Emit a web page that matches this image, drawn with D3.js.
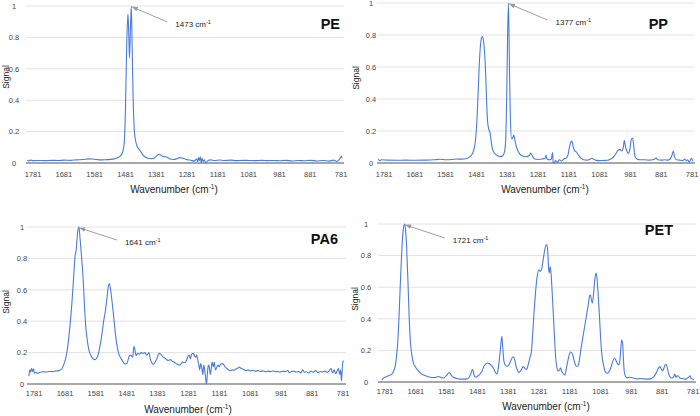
<!DOCTYPE html>
<meta charset="utf-8">
<style>
body { margin: 0; background: #fff; }
svg { display: block; font-family: "Liberation Sans", Arial, sans-serif; }
.grid line { stroke: #e2e2e2; stroke-width: 1; }
.base { stroke: #8a8a8a; stroke-width: 1.5; }
.tick-label { font-size: 7.5px; fill: #444; }
.axis-title { font-size: 10px; fill: #222; }
.signal { font-size: 8.5px; fill: #222; }
.spectrum { fill: none; stroke: #4a7bdc; stroke-width: 1.1; }
.note { font-size: 8px; fill: #222; }
.pointer { stroke: #a0a0a0; stroke-width: 1; }
.panel-name { font-size: 14.5px; font-weight: bold; fill: #111; }
</style>
<svg width="700" height="416"></svg>
<script src="https://cdnjs.cloudflare.com/ajax/libs/d3/7.8.5/d3.min.js"></script>
<script>

// tick labels
var xTicks = [1781, 1681, 1581, 1481, 1381, 1281, 1181, 1081, 981, 881, 781];
var yTicks = [0, 0.2, 0.4, 0.6, 0.8, 1];
var panelNames = ["PE", "PP", "PA6", "PET"];
var peakLabels = ["1473", "1377", "1641", "1721"];

// PE spectrum (wavenumber, signal)
var peWn = [1800, 1795, 1790, 1780, 1760, 1740, 1720, 1700, 1680, 1660, 1640, 1620, 1600, 1590, 1575, 1560, 1545, 1530, 1515, 1505, 1497, 1490, 1485, 1481, 1477, 1473, 1470, 1468, 1465, 1462, 1459, 1456, 1452, 1448, 1444, 1438, 1432, 1426, 1418, 1408, 1398, 1388, 1380, 1372, 1366, 1360, 1352, 1345, 1336, 1325, 1314, 1305, 1297, 1288, 1278, 1268, 1258, 1250, 1247, 1244, 1241, 1238, 1235, 1232, 1229, 1225, 1220, 1214, 1205, 1190, 1175, 1160, 1140, 1120, 1100, 1080, 1060, 1040, 1020, 1000, 980, 960, 940, 920, 900, 880, 860, 840, 820, 805, 795, 788, 783, 780, 778];
var peSig = [0.02, 0.012, 0.018, 0.015, 0.016, 0.015, 0.017, 0.016, 0.018, 0.017, 0.02, 0.022, 0.026, 0.025, 0.022, 0.02, 0.021, 0.023, 0.028, 0.035, 0.045, 0.07, 0.13, 0.35, 0.75, 0.95, 0.8, 0.67, 0.85, 1.0, 0.7, 0.4, 0.2, 0.14, 0.11, 0.09, 0.075, 0.055, 0.04, 0.03, 0.027, 0.03, 0.045, 0.056, 0.05, 0.042, 0.04, 0.035, 0.025, 0.022, 0.027, 0.034, 0.032, 0.025, 0.02, 0.018, 0.012, 0.025, 0.008, 0.035, 0.015, 0.04, 0.0, 0.03, 0.01, 0.02, 0.0, 0.015, 0.02, 0.016, 0.019, 0.016, 0.018, 0.015, 0.017, 0.016, 0.015, 0.017, 0.015, 0.016, 0.014, 0.017, 0.013, 0.016, 0.014, 0.017, 0.013, 0.016, 0.012, 0.018, 0.01, 0.02, 0.035, 0.045, 0.03];

// PP spectrum
var ppWn = [1800, 1795, 1790, 1770, 1740, 1710, 1680, 1650, 1620, 1600, 1580, 1560, 1545, 1530, 1515, 1505, 1497, 1490, 1485, 1480, 1476, 1471, 1466, 1462, 1458, 1455, 1451, 1448, 1445, 1441, 1437, 1433, 1428, 1420, 1412, 1403, 1396, 1390, 1386, 1383, 1380, 1377, 1374, 1371, 1367, 1363, 1360, 1356, 1351, 1345, 1338, 1328, 1318, 1310, 1305, 1300, 1292, 1280, 1268, 1258, 1255, 1252, 1244, 1238, 1234, 1232, 1228, 1225, 1218, 1212, 1205, 1198, 1190, 1184, 1180, 1175, 1171, 1167, 1162, 1157, 1150, 1142, 1134, 1120, 1112, 1106, 1098, 1085, 1070, 1055, 1045, 1035, 1028, 1021, 1015, 1010, 1005, 1001, 997, 992, 988, 983, 978, 974, 970, 966, 960, 950, 935, 920, 910, 902, 898, 893, 880, 870, 860, 852, 846, 842, 838, 832, 822, 812, 805, 800, 795, 790, 786, 782, 779];
var ppSig = [0.025, 0.015, 0.02, 0.018, 0.017, 0.018, 0.017, 0.018, 0.02, 0.023, 0.02, 0.022, 0.025, 0.024, 0.027, 0.035, 0.05, 0.08, 0.13, 0.25, 0.42, 0.65, 0.77, 0.79, 0.76, 0.7, 0.55, 0.38, 0.26, 0.21, 0.19, 0.13, 0.08, 0.055, 0.045, 0.04, 0.045, 0.07, 0.15, 0.4, 0.8, 1.0, 0.6, 0.28, 0.15, 0.16, 0.175, 0.14, 0.1, 0.07, 0.05, 0.042, 0.04, 0.045, 0.062, 0.045, 0.025, 0.022, 0.025, 0.03, 0.048, 0.025, 0.02, 0.025, 0.065, 0.005, 0.0, 0.015, 0.005, 0.02, 0.012, 0.025, 0.03, 0.05, 0.09, 0.13, 0.137, 0.1, 0.075, 0.07, 0.05, 0.03, 0.02, 0.018, 0.025, 0.03, 0.02, 0.015, 0.016, 0.017, 0.025, 0.04, 0.06, 0.08, 0.085, 0.075, 0.09, 0.14, 0.1, 0.07, 0.06, 0.085, 0.15, 0.155, 0.1, 0.04, 0.025, 0.02, 0.02, 0.018, 0.02, 0.025, 0.032, 0.02, 0.018, 0.02, 0.018, 0.025, 0.05, 0.075, 0.04, 0.02, 0.018, 0.015, 0.025, 0.015, 0.02, 0.005, 0.02, 0.03, 0.01];

// PA6 spectrum
var pa6Wn = [1798, 1795, 1792, 1789, 1786, 1783, 1780, 1776, 1770, 1762, 1752, 1742, 1732, 1722, 1712, 1702, 1695, 1690, 1684, 1678, 1672, 1666, 1660, 1655, 1648, 1645, 1640, 1636, 1632, 1627, 1622, 1618, 1614, 1609, 1604, 1598, 1592, 1586, 1580, 1575, 1568, 1562, 1556, 1550, 1545, 1541, 1538, 1534, 1529, 1524, 1519, 1514, 1508, 1502, 1497, 1491, 1486, 1481, 1476, 1471, 1466, 1462, 1458, 1455, 1451, 1446, 1440, 1434, 1428, 1422, 1417, 1413, 1409, 1405, 1400, 1395, 1389, 1383, 1377, 1371, 1365, 1358, 1352, 1346, 1340, 1334, 1328, 1322, 1316, 1310, 1305, 1300, 1294, 1288, 1283, 1279, 1275, 1271, 1266, 1262, 1258, 1255, 1251, 1248, 1245, 1242, 1238, 1235, 1232, 1229, 1226, 1223, 1220, 1217, 1214, 1211, 1208, 1205, 1201, 1198, 1194, 1190, 1186, 1182, 1178, 1173, 1168, 1163, 1158, 1152, 1146, 1140, 1134, 1128, 1122, 1117, 1112, 1106, 1100, 1094, 1088, 1080, 1072, 1064, 1056, 1048, 1040, 1032, 1024, 1016, 1008, 1000, 992, 984, 976, 968, 960, 954, 948, 940, 932, 925, 918, 912, 906, 900, 892, 885, 878, 870, 862, 855, 848, 840, 832, 825, 820, 815, 810, 805, 800, 796, 792, 789, 786, 783, 780];
var pa6Sig = [0.05, 0.09, 0.075, 0.1, 0.08, 0.095, 0.07, 0.075, 0.068, 0.075, 0.078, 0.076, 0.08, 0.079, 0.082, 0.085, 0.09, 0.1, 0.13, 0.17, 0.24, 0.35, 0.48, 0.62, 0.82, 0.85, 0.97, 1.0, 0.92, 0.8, 0.66, 0.5, 0.37, 0.28, 0.22, 0.185, 0.165, 0.155, 0.16, 0.18, 0.24, 0.31, 0.4, 0.47, 0.55, 0.62, 0.64, 0.61, 0.53, 0.44, 0.34, 0.26, 0.2, 0.17, 0.155, 0.135, 0.127, 0.13, 0.16, 0.185, 0.18, 0.17, 0.24, 0.22, 0.18, 0.195, 0.19, 0.2, 0.195, 0.2, 0.185, 0.19, 0.2, 0.16, 0.135, 0.125, 0.14, 0.165, 0.195, 0.19, 0.175, 0.165, 0.155, 0.15, 0.155, 0.145, 0.14, 0.13, 0.125, 0.12, 0.13, 0.14, 0.135, 0.15, 0.175, 0.185, 0.16, 0.19, 0.195, 0.18, 0.17, 0.185, 0.15, 0.12, 0.09, 0.13, 0.1, 0.06, 0.12, 0.09, 0.04, 0.0, 0.07, 0.12, 0.11, 0.06, 0.09, 0.14, 0.11, 0.14, 0.09, 0.105, 0.12, 0.11, 0.125, 0.13, 0.125, 0.11, 0.1, 0.09, 0.085, 0.09, 0.088, 0.095, 0.1, 0.108, 0.1, 0.095, 0.09, 0.085, 0.09, 0.083, 0.088, 0.082, 0.085, 0.08, 0.084, 0.078, 0.082, 0.079, 0.083, 0.078, 0.08, 0.076, 0.082, 0.079, 0.085, 0.072, 0.08, 0.082, 0.075, 0.08, 0.07, 0.09, 0.075, 0.078, 0.07, 0.082, 0.075, 0.085, 0.072, 0.08, 0.076, 0.082, 0.075, 0.085, 0.1, 0.07, 0.09, 0.065, 0.085, 0.1, 0.06, 0.09, 0.02, 0.12, 0.15];

// PET spectrum
var petWn = [1792, 1786, 1781, 1770, 1759, 1752, 1748, 1744, 1740, 1736, 1732, 1728, 1724, 1720, 1717, 1714, 1711, 1707, 1703, 1699, 1694, 1689, 1684, 1677, 1670, 1662, 1650, 1635, 1620, 1608, 1600, 1592, 1582, 1576, 1572, 1567, 1559, 1548, 1537, 1525, 1515, 1508, 1503, 1497, 1492, 1488, 1480, 1473, 1466, 1460, 1454, 1448, 1442, 1436, 1430, 1425, 1418, 1414, 1410, 1406, 1402, 1399, 1395, 1390, 1385, 1380, 1374, 1368, 1364, 1360, 1356, 1351, 1347, 1343, 1338, 1333, 1328, 1324, 1320, 1315, 1310, 1306, 1302, 1297, 1292, 1287, 1282, 1277, 1272, 1268, 1264, 1260, 1256, 1253, 1250, 1248, 1245, 1242, 1238, 1234, 1230, 1227, 1223, 1219, 1215, 1211, 1208, 1205, 1201, 1197, 1193, 1189, 1184, 1179, 1175, 1170, 1165, 1160, 1155, 1150, 1145, 1140, 1134, 1128, 1122, 1117, 1114, 1111, 1108, 1104, 1100, 1096, 1093, 1089, 1085, 1081, 1077, 1072, 1067, 1061, 1056, 1050, 1045, 1040, 1036, 1031, 1026, 1022, 1019, 1016, 1013, 1010, 1007, 1004, 1000, 995, 988, 980, 970, 960, 950, 940, 930, 920, 912, 906, 900, 894, 889, 885, 880, 876, 872, 868, 864, 860, 855, 850, 845, 840, 837, 833, 829, 824, 818, 812, 805, 800, 795, 791, 788, 784, 780, 778];
var petSig = [0.013, 0.025, 0.03, 0.04, 0.05, 0.075, 0.1, 0.16, 0.25, 0.4, 0.6, 0.78, 0.92, 0.99, 1.0, 0.95, 0.85, 0.65, 0.42, 0.26, 0.17, 0.12, 0.1, 0.08, 0.065, 0.05, 0.04, 0.03, 0.028, 0.035, 0.028, 0.025, 0.04, 0.055, 0.06, 0.045, 0.03, 0.022, 0.018, 0.018, 0.02, 0.03, 0.05, 0.08, 0.045, 0.03, 0.038, 0.05, 0.07, 0.1, 0.115, 0.12, 0.115, 0.105, 0.09, 0.07, 0.05, 0.08, 0.14, 0.22, 0.29, 0.22, 0.13, 0.105, 0.1, 0.105, 0.13, 0.155, 0.16, 0.14, 0.1, 0.075, 0.06, 0.065, 0.08, 0.097, 0.09, 0.08, 0.085, 0.12, 0.16, 0.19, 0.3, 0.45, 0.58, 0.67, 0.71, 0.7, 0.72, 0.77, 0.82, 0.86, 0.87, 0.83, 0.72, 0.69, 0.73, 0.68, 0.55, 0.4, 0.25, 0.15, 0.09, 0.07, 0.075, 0.09, 0.07, 0.06, 0.05, 0.045, 0.08, 0.12, 0.165, 0.19, 0.185, 0.16, 0.12, 0.1, 0.1, 0.14, 0.21, 0.27, 0.34, 0.41, 0.48, 0.545, 0.55, 0.52, 0.5, 0.56, 0.65, 0.69, 0.66, 0.55, 0.42, 0.27, 0.17, 0.11, 0.07, 0.055, 0.06, 0.08, 0.11, 0.14, 0.15, 0.135, 0.115, 0.11, 0.13, 0.2, 0.265, 0.25, 0.14, 0.06, 0.035, 0.026, 0.03, 0.028, 0.022, 0.02, 0.022, 0.02, 0.018, 0.02, 0.028, 0.04, 0.06, 0.085, 0.097, 0.085, 0.07, 0.085, 0.108, 0.11, 0.085, 0.05, 0.03, 0.025, 0.03, 0.05, 0.03, 0.038, 0.04, 0.025, 0.022, 0.02, 0.018, 0.025, 0.03, 0.04, 0.025, 0.02, 0.015, 0.012];

var spectra = [[peWn, peSig], [ppWn, ppSig], [pa6Wn, pa6Sig], [petWn, petSig]];

// layout of the four panels (pixels)
var layout = [
  {left: 26,  right: 342, top: 6,   bottom: 163, yLab: 14,  sigX: 8.5,   sigY: 77,  tickY: 177, titleX: 174, titleY: 193, nameX: 340, nameY: 29,  arrow: [35, 15]},
  {left: 377, right: 693, top: 3,   bottom: 163, yLab: 371, sigX: 358.5, sigY: 78,  tickY: 177, titleX: 545, titleY: 193, nameX: 668, nameY: 29,  arrow: [38, 16]},
  {left: 27,  right: 344, top: 227, bottom: 384, yLab: 22,  sigX: 8.5,   sigY: 302, tickY: 396, titleX: 188, titleY: 413, nameX: 338, nameY: 244, arrow: [37, 12]},
  {left: 378, right: 694, top: 224, bottom: 382, yLab: 366, sigX: 357.5, sigY: 299, tickY: 394, titleX: 546, titleY: 410, nameX: 673, nameY: 235, arrow: [39, 13]}
];

var svg = d3.select("svg");

svg.append("defs").append("marker")
    .attr("id", "head")
    .attr("viewBox", "0 0 10 10")
    .attr("refX", 9).attr("refY", 5)
    .attr("markerWidth", 6).attr("markerHeight", 6)
    .attr("orient", "auto")
  .append("path")
    .attr("d", "M0,1 L10,5 L0,9 Z")
    .attr("fill", "#999");

layout.forEach(function(p, i) {
  var wn = spectra[i][0], sig = spectra[i][1];
  var pts = wn.map(function(w, k) { return [w, sig[k]]; });

  var x = d3.scaleLinear().domain([1804, 778]).range([p.left, p.right]);
  var y = d3.scaleLinear().domain([0, 1]).range([p.bottom, p.top]);

  var g = svg.append("g");

  g.append("g").attr("class", "grid")
    .selectAll("line")
    .data(yTicks.filter(function(t) { return t > 0; }))
    .enter().append("line")
      .attr("x1", p.left).attr("x2", p.right + 2)
      .attr("y1", function(d) { return y(d); })
      .attr("y2", function(d) { return y(d); });

  g.selectAll(".ylab")
    .data(yTicks)
    .enter().append("text")
      .attr("class", "tick-label")
      .attr("x", p.yLab)
      .attr("y", function(d) { return y(d) + 2.7; })
      .attr("text-anchor", "middle")
      .text(function(d) { return d; });

  g.selectAll(".xlab")
    .data(xTicks)
    .enter().append("text")
      .attr("class", "tick-label")
      .attr("x", function(d) { return x(d); })
      .attr("y", p.tickY)
      .attr("text-anchor", "middle")
      .text(function(d) { return d; });

  g.append("line").attr("class", "base")
    .attr("x1", p.left).attr("x2", p.right + 2)
    .attr("y1", y(0)).attr("y2", y(0));

  var line = d3.line()
    .x(function(d) { return x(d[0]); })
    .y(function(d) { return y(d[1]); })
    .curve(d3.curveMonotoneX);

  g.append("path").datum(pts)
    .attr("class", "spectrum")
    .attr("d", line);

  // peak pointer
  var top = pts[d3.maxIndex(sig)];
  var tx = x(top[0]) + 1, ty = y(top[1]) + 1;
  var ax = tx + p.arrow[0], ay = ty + p.arrow[1];
  g.append("line").attr("class", "pointer")
    .attr("x1", ax).attr("y1", ay)
    .attr("x2", tx).attr("y2", ty)
    .attr("marker-end", "url(#head)");

  var note = g.append("text").attr("class", "note")
    .attr("x", ax + 8).attr("y", ay + 5);
  note.append("tspan").text(peakLabels[i] + " cm");
  note.append("tspan").attr("dy", -3).attr("font-size", "5.5px").text("-1");

  g.append("text").attr("class", "panel-name")
    .attr("x", p.nameX).attr("y", p.nameY)
    .attr("text-anchor", "end")
    .text(panelNames[i]);

  g.append("text").attr("class", "signal")
    .attr("transform", "translate(" + p.sigX + "," + p.sigY + ") rotate(-90)")
    .attr("text-anchor", "middle")
    .text("Signal");

  var t = g.append("text").attr("class", "axis-title")
    .attr("x", p.titleX).attr("y", p.titleY)
    .attr("text-anchor", "middle");
  t.append("tspan").text("Wavenumber (cm");
  t.append("tspan").attr("dy", -4).attr("font-size", "6.5px").text("-1");
  t.append("tspan").attr("dy", 4).text(")");
});

</script>
